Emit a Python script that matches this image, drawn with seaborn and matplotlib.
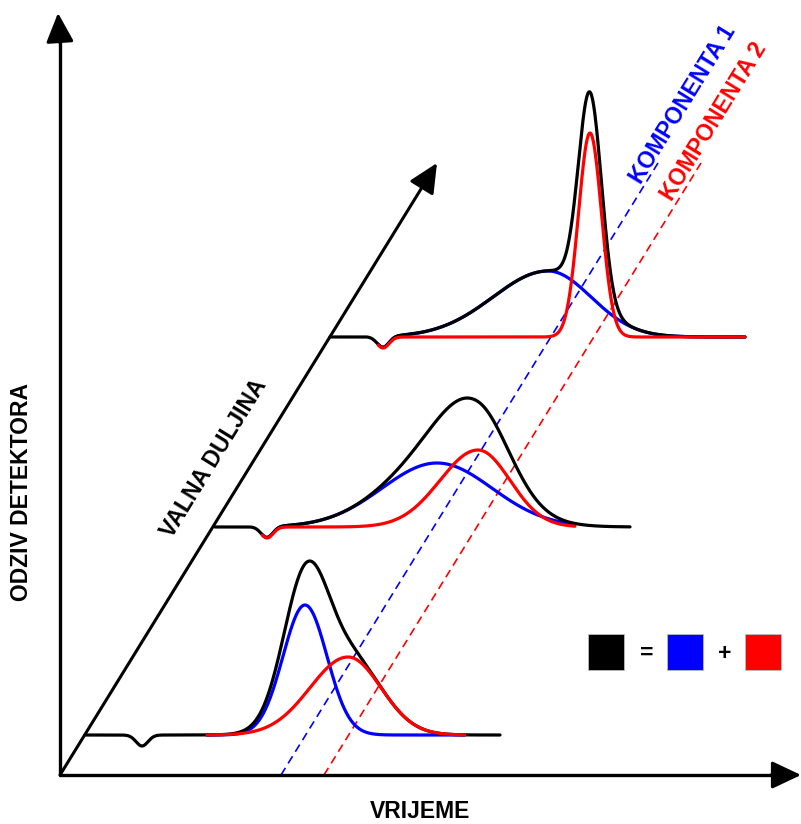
import numpy as np
import pandas as pd
import matplotlib
matplotlib.use("Agg")
import matplotlib.pyplot as plt
import seaborn as sns

sns.set_theme(style="white")
plt.rcParams['font.family'] = ['Liberation Sans', 'DejaVu Sans']
plt.rcParams['text.color'] = 'black'

# ---- data (pixel units of the diagram) ----
trace_names = ["t1", "t2", "t3"]
baseline_y = [735, 527, 337]
trace_x_start = [85, 215, 330]
trace_x_end = [500, 630, 745]
dip_x = [142, 267, 383]
dip_depth = [11, 11, 11]
dip_sigma = [6, 6, 6]
colored_start = [207, 262, 378]
colored_end = [465, 575, 745]

blue_center = [305, 437, 548]
blue_height = [130, 64, 66]
blue_sigma_left = [22, 55, 55]
blue_sigma_right = [22, 55, 43]

red_center = [348, 478, 590]
red_height = [78, 77, 204]
red_sigma_left = [38, 38, 11.5]
red_sigma_right = [33, 32, 11.5]

axis_origin = (60, 775)
y_axis_tip = (58, 13)
x_axis_tip = (801, 775)
diag_tip = (437, 163)
dash_blue_bottom = (281, 775)
dash_red_bottom = (324, 775)
dash_top_y = 163

legend_labels = ["=", "+"]


def peak(x, c, h, sl, sr):
    s = np.where(x < c, sl, sr)
    return h * np.exp(-(x - c) ** 2 / (2 * s ** 2))


rows = []
for i, name in enumerate(trace_names):
    x = np.linspace(trace_x_start[i], trace_x_end[i], 800)
    dip = dip_depth[i] * np.exp(-(x - dip_x[i]) ** 2 / (2 * dip_sigma[i] ** 2))
    b = peak(x, blue_center[i], blue_height[i], blue_sigma_left[i], blue_sigma_right[i])
    r = peak(x, red_center[i], red_height[i], red_sigma_left[i], red_sigma_right[i])
    yb = baseline_y[i] + dip
    mask = (x >= colored_start[i]) & (x <= colored_end[i])
    for xi, v in zip(x, yb - b - r):
        rows.append((name, "sum", xi, v))
    for xi, v in zip(x[mask], (yb - b)[mask]):
        rows.append((name, "blue", xi, v))
    for xi, v in zip(x[mask], (yb - r)[mask]):
        rows.append((name, "red", xi, v))
df = pd.DataFrame(rows, columns=["trace", "comp", "x", "y"])

W, H = 801, 824
fig = plt.figure(figsize=(W / 100, H / 100), dpi=100)
ax = fig.add_axes([0, 0, 1, 1])
ax.set_xlim(0, W)
ax.set_ylim(H, 0)
ax.axis("off")

lw = 2.3
for comp, col, z in [("blue", "#0000ff", 3), ("sum", "black", 4), ("red", "#ff0000", 5)]:
    sub = df[df.comp == comp]
    sns.lineplot(data=sub, x="x", y="y", units="trace", estimator=None, sort=False,
                 color=col, lw=lw, zorder=z, ax=ax, legend=False)
ax.set_xlim(0, W)
ax.set_ylim(H, 0)
ax.set_xlabel("")
ax.set_ylabel("")

# dashed component lines
slope = (axis_origin[1] - diag_tip[1]) / (diag_tip[0] - axis_origin[0])
for (bx, by), col in [(dash_blue_bottom, "#0000ff"), (dash_red_bottom, "#ff0000")]:
    tx = bx + (by - dash_top_y) / slope
    ax.plot([bx, tx], [by, dash_top_y], color=col, lw=1.2, ls=(0, (5.0, 3.2)), zorder=2)

# axes arrows
def arrow(start, tip):
    ax.annotate("", xy=tip, xytext=start,
                arrowprops=dict(arrowstyle="-|>,head_length=1.8,head_width=0.85",
                                lw=2.2, color="black", shrinkA=0, shrinkB=0,
                                mutation_scale=10), zorder=6)

ax.plot([axis_origin[0], x_axis_tip[0] - 10], [axis_origin[1]] * 2, color="black", lw=2.4, zorder=6)
arrow((x_axis_tip[0] - 30, axis_origin[1]), x_axis_tip)
ax.plot([axis_origin[0]] * 2, [axis_origin[1], y_axis_tip[1] + 10], color="black", lw=2.4, zorder=6)
arrow((axis_origin[0], y_axis_tip[1] + 30), y_axis_tip)
arrow(axis_origin, diag_tip)

angle = np.degrees(np.arctan(slope))
font = dict(fontweight="bold", fontsize=16.5, color="black",
            family=['Liberation Sans', 'DejaVu Sans'])
ax.text(22, 492, "ODZIV DETEKTORA", rotation=90, ha="center", va="center", **font)
ax.text(420, 812, "VRIJEME", ha="center", va="center", **font)
ax.text(214, 458, "VALNA DULJINA", rotation=angle, ha="center", va="center",
        rotation_mode="anchor", **font)
font_c = dict(font)
font_c.pop("color")
ax.text(683, 104, "KOMPONENTA 1", rotation=angle, ha="center", va="center",
        rotation_mode="anchor", color="#0000ff", **font_c)
ax.text(714, 121, "KOMPONENTA 2", rotation=angle, ha="center", va="center",
        rotation_mode="anchor", color="#ff0000", **font_c)

# legend squares
for x0, col in [(588, "black"), (667, "#0000ff"), (745, "#ff0000")]:
    ax.add_patch(plt.Rectangle((x0, 634), 36, 36, facecolor=col, edgecolor="#bbbbbb", lw=0.6, zorder=6))
ax.text(647, 653, legend_labels[0], ha="center", va="center", **font)
ax.text(725, 653, legend_labels[1], ha="center", va="center", **font)

fig.savefig("out.png", dpi=100)
